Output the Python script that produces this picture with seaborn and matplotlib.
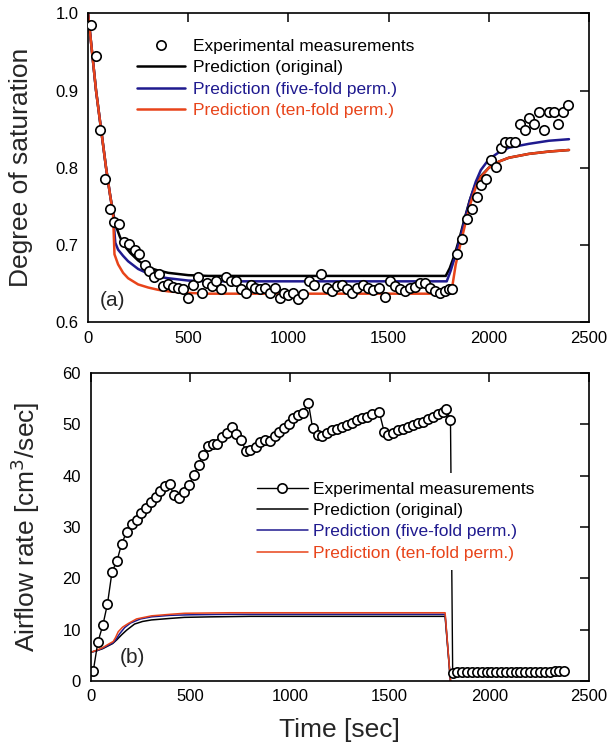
import numpy as np
import pandas as pd
import seaborn as sns
import matplotlib
matplotlib.use("Agg")
import matplotlib.pyplot as plt
from matplotlib.lines import Line2D

# ---- panel (a): degree of saturation ----
sat_t = [13, 40, 62, 87, 110, 132, 157, 182, 205, 232, 255, 282, 305, 327, 352, 372,
         398, 422, 447, 472, 497, 522, 547, 568, 593, 618, 640, 663, 688, 713, 738, 763,
         788, 812, 835, 860, 885, 910, 932, 957, 977, 997, 1022, 1047, 1072, 1102, 1127,
         1163, 1193, 1218, 1243, 1268, 1293, 1318, 1343, 1372, 1397, 1423, 1452, 1480,
         1507, 1532, 1557, 1582, 1607, 1632, 1657, 1682, 1707, 1732, 1757, 1780, 1800,
         1818, 1843, 1868, 1893, 1917, 1940, 1963, 1988, 2012, 2037, 2060, 2083, 2108,
         2132, 2155, 2180, 2203, 2227, 2252, 2277, 2298, 2323, 2347, 2372, 2395]
sat_exp = [0.985, 0.945, 0.849, 0.785, 0.746, 0.730, 0.727, 0.704, 0.701, 0.694, 0.688,
           0.674, 0.667, 0.659, 0.663, 0.647, 0.650, 0.646, 0.644, 0.643, 0.632, 0.648,
           0.659, 0.638, 0.651, 0.647, 0.653, 0.643, 0.659, 0.653, 0.653, 0.643, 0.638,
           0.648, 0.644, 0.643, 0.644, 0.638, 0.644, 0.632, 0.638, 0.635, 0.638, 0.630,
           0.637, 0.653, 0.648, 0.663, 0.644, 0.640, 0.647, 0.648, 0.643, 0.638, 0.644,
           0.648, 0.644, 0.642, 0.644, 0.633, 0.653, 0.647, 0.643, 0.640, 0.644, 0.646,
           0.651, 0.651, 0.644, 0.641, 0.638, 0.641, 0.643, 0.643, 0.688, 0.708, 0.734,
           0.746, 0.762, 0.778, 0.786, 0.810, 0.801, 0.825, 0.833, 0.834, 0.834, 0.857,
           0.849, 0.865, 0.857, 0.872, 0.849, 0.872, 0.872, 0.857, 0.872, 0.881]

orig_t = [0, 20, 40, 65, 90, 110, 125, 140, 160, 185, 210, 250, 300, 350, 400, 500, 600,
          1785, 1805, 1830, 1855, 1880, 1905, 1930, 1960, 2000, 2050, 2100, 2200, 2300, 2400]
orig_s = [1.0, 0.95, 0.90, 0.85, 0.80, 0.765, 0.742, 0.724, 0.710, 0.698, 0.690, 0.680,
          0.671, 0.667, 0.664, 0.661, 0.660, 0.660, 0.670, 0.688, 0.710, 0.735, 0.758,
          0.776, 0.789, 0.800, 0.808, 0.813, 0.818, 0.821, 0.823]

five_t = [0, 20, 40, 65, 90, 110, 125, 136, 150, 175, 200, 250, 300, 350, 400, 500, 600,
          1790, 1810, 1835, 1860, 1885, 1910, 1935, 1960, 2000, 2050, 2100, 2200, 2300, 2400]
five_s = [1.0, 0.95, 0.90, 0.85, 0.80, 0.765, 0.740, 0.703, 0.694, 0.686, 0.679, 0.669,
          0.663, 0.659, 0.657, 0.654, 0.653, 0.653, 0.667, 0.688, 0.712, 0.738, 0.762,
          0.782, 0.797, 0.811, 0.820, 0.826, 0.831, 0.835, 0.837]

ten_t = [0, 20, 40, 65, 90, 110, 125, 132, 150, 175, 200, 250, 300, 350, 400, 500, 600,
         1812, 1835, 1860, 1885, 1910, 1935, 1960, 2000, 2050, 2100, 2200, 2300, 2400]
ten_s = [1.0, 0.95, 0.90, 0.85, 0.80, 0.765, 0.740, 0.688, 0.675, 0.664, 0.657, 0.649,
         0.645, 0.642, 0.640, 0.638, 0.637, 0.637, 0.675, 0.703, 0.730, 0.755, 0.775,
         0.788, 0.800, 0.808, 0.813, 0.818, 0.821, 0.823]

# ---- panel (b): airflow rate ----
air_t = [13, 36, 61, 84, 107, 131, 155, 181, 205, 230, 254, 278, 302, 326, 350, 374, 396,
         416, 443, 467, 493, 517, 541, 563, 587, 613, 635, 660, 683, 707, 731, 756, 777,
         800, 827, 850, 875, 898, 923, 947, 972, 993, 1017, 1038, 1063, 1092, 1113, 1138,
         1160, 1185, 1213, 1238, 1263, 1288, 1313, 1338, 1363, 1388, 1413, 1447, 1472,
         1494, 1518, 1543, 1568, 1593, 1618, 1643, 1668, 1693, 1718, 1743, 1768, 1785,
         1805, 1816, 1840, 1864, 1889, 1913, 1937, 1962, 1986, 2010, 2035, 2059, 2083,
         2108, 2132, 2156, 2181, 2205, 2229, 2254, 2278, 2302, 2327, 2351, 2375]
air_exp = [2.0, 7.6, 10.9, 15.0, 21.3, 23.3, 26.7, 29.1, 30.6, 31.4, 32.7, 33.7, 34.9,
           35.9, 37.0, 37.9, 38.4, 36.2, 35.6, 36.9, 38.2, 40.1, 42.1, 44.1, 45.7, 46.2,
           46.2, 47.5, 48.4, 49.5, 48.2, 46.9, 44.9, 45.0, 45.5, 46.5, 47.0, 46.8, 47.8,
           48.6, 49.3, 50.1, 51.2, 51.9, 52.2, 54.2, 49.3, 48.0, 47.8, 48.3, 48.8, 49.1,
           49.5, 49.9, 50.2, 50.8, 51.2, 51.5, 52.0, 52.5, 48.6, 48.0, 48.4, 48.8, 49.1,
           49.5, 49.9, 50.2, 50.5, 51.0, 51.5, 52.1, 52.5, 53.0, 50.8, 1.6, 1.7, 1.7, 1.7,
           1.7, 1.7, 1.7, 1.8, 1.7, 1.8, 1.8, 1.7, 1.8, 1.8, 1.8, 1.8, 1.8, 1.8, 1.8, 1.8,
           1.8, 1.9, 1.9, 1.9]

qorig_t = [0, 30, 60, 90, 110, 130, 155, 180, 220, 260, 305, 400, 470, 600, 800, 1778, 1805]
qorig = [5.6, 5.9, 6.3, 6.9, 7.3, 8.0, 9.0, 9.9, 11.1, 11.6, 11.9, 12.2, 12.4, 12.5, 12.6,
         12.6, 0.0]
qfive_t = [0, 30, 60, 90, 110, 125, 145, 170, 200, 250, 305, 400, 500, 700, 1778, 1805]
qfive = [5.6, 5.9, 6.4, 7.0, 7.4, 8.0, 9.2, 10.4, 11.3, 12.1, 12.5, 12.8, 12.9, 13.0,
         13.0, 0.0]
qten_t = [0, 30, 60, 90, 113, 125, 138, 160, 188, 230, 305, 400, 471, 700, 1778, 1805]
qten = [5.6, 6.0, 6.5, 7.2, 7.7, 8.5, 9.6, 10.5, 11.2, 12.1, 12.7, 13.0, 13.2, 13.3,
        13.3, 0.0]

labels = ["Experimental measurements", "Prediction (original)",
          "Prediction (five-fold perm.)", "Prediction (ten-fold perm.)"]
blue = "#1f1a8f"
red = "#e8441a"

sns.set_style("white")
plt.rcParams['font.family'] = ['Liberation Sans', 'DejaVu Sans']

fig = plt.figure(figsize=(6.1, 7.46), dpi=100)
ax1 = fig.add_axes([0.1443, 0.568, 0.8213, 0.4142])
ax2 = fig.add_axes([0.1487, 0.0871, 0.8169, 0.4129])

# top panel
sns.lineplot(x=orig_t, y=orig_s, color="black", lw=1.8, sort=False, estimator=None, ax=ax1)
sns.lineplot(x=five_t, y=five_s, color=blue, lw=1.8, sort=False, estimator=None, ax=ax1)
sns.lineplot(x=ten_t, y=ten_s, color=red, lw=1.8, sort=False, estimator=None, ax=ax1)
sns.scatterplot(x=sat_t, y=sat_exp, marker="o", s=46, facecolor="white",
                edgecolor="black", linewidth=1.2, zorder=5, ax=ax1)
ax1.set_xlim(0, 2500)
ax1.set_ylim(0.6, 1.0)
ax1.set_yticks([0.6, 0.7, 0.8, 0.9, 1.0])
ax1.set_ylabel("Degree of saturation", fontsize=19, va="center")
ax1.yaxis.set_label_coords(-0.134, 0.5)
ax1.text(60, 0.628, "(a)", fontsize=15, va="center")

h1 = [Line2D([], [], ls="none", marker="o", ms=6.7, mfc="white", mec="black", mew=1.2),
      Line2D([], [], color="black", lw=1.8),
      Line2D([], [], color=blue, lw=1.8),
      Line2D([], [], color=red, lw=1.8)]
leg1 = ax1.legend(h1, labels, loc="center left", bbox_to_anchor=(0.08, 0.789),
                  frameon=False, fontsize=12.5, handlelength=2.76, handletextpad=0.46,
                  labelspacing=0.36, borderpad=0.5, borderaxespad=0)

# bottom panel
sns.lineplot(x=qorig_t, y=qorig, color="black", lw=1.1, sort=False, estimator=None, ax=ax2)
sns.lineplot(x=qfive_t, y=qfive, color=blue, lw=1.1, sort=False, estimator=None, ax=ax2)
sns.lineplot(x=qten_t, y=qten, color=red, lw=1.1, sort=False, estimator=None, ax=ax2)
sns.lineplot(x=air_t, y=air_exp, color="black", lw=1.0, marker="o", ms=6.7,
             mfc="white", mec="black", mew=1.2, sort=False, estimator=None, ax=ax2)
ax2.set_xlim(0, 2500)
ax2.set_ylim(0, 60)
ax2.set_yticks([0, 10, 20, 30, 40, 50, 60])
ax2.set_ylabel("Airflow rate [cm$^3$/sec]", fontsize=19, va="center")
ax2.yaxis.set_label_coords(-0.132, 0.5)
ax2.set_xlabel("Time [sec]", fontsize=19, va="center")
ax2.xaxis.set_label_coords(0.5, -0.159)
ax2.text(147, 4.5, "(b)", fontsize=15, va="center")

h2 = [Line2D([], [], color="black", lw=1.0, marker="o", ms=6.7, mfc="white",
             mec="black", mew=1.2),
      Line2D([], [], color="black", lw=1.1),
      Line2D([], [], color=blue, lw=1.1),
      Line2D([], [], color=red, lw=1.1)]
leg2 = ax2.legend(h2, labels, loc="center left", bbox_to_anchor=(0.316, 0.519),
                  frameon=True, facecolor="white", edgecolor="none", framealpha=1,
                  fontsize=12.5, handlelength=2.93, handletextpad=0.29,
                  labelspacing=0.36, borderpad=0.5, borderaxespad=0, fancybox=False)
leg2.set_zorder(10)

for leg in (leg1, leg2):
    for txt, c in zip(leg.get_texts(), ["black", "black", blue, red]):
        txt.set_color(c)

for ax in (ax1, ax2):
    ax.set_xticks([0, 500, 1000, 1500, 2000, 2500])
    ax.tick_params(direction="in", top=True, right=True, length=6.5, width=1.1,
                   labelsize=12, color="black", labelcolor="black")
    ax.tick_params(axis="x", pad=6)
    ax.tick_params(axis="y", pad=7)
    for sp in ax.spines.values():
        sp.set_color("black")
        sp.set_linewidth(1.2)

fig.savefig("out.png", dpi=100)
